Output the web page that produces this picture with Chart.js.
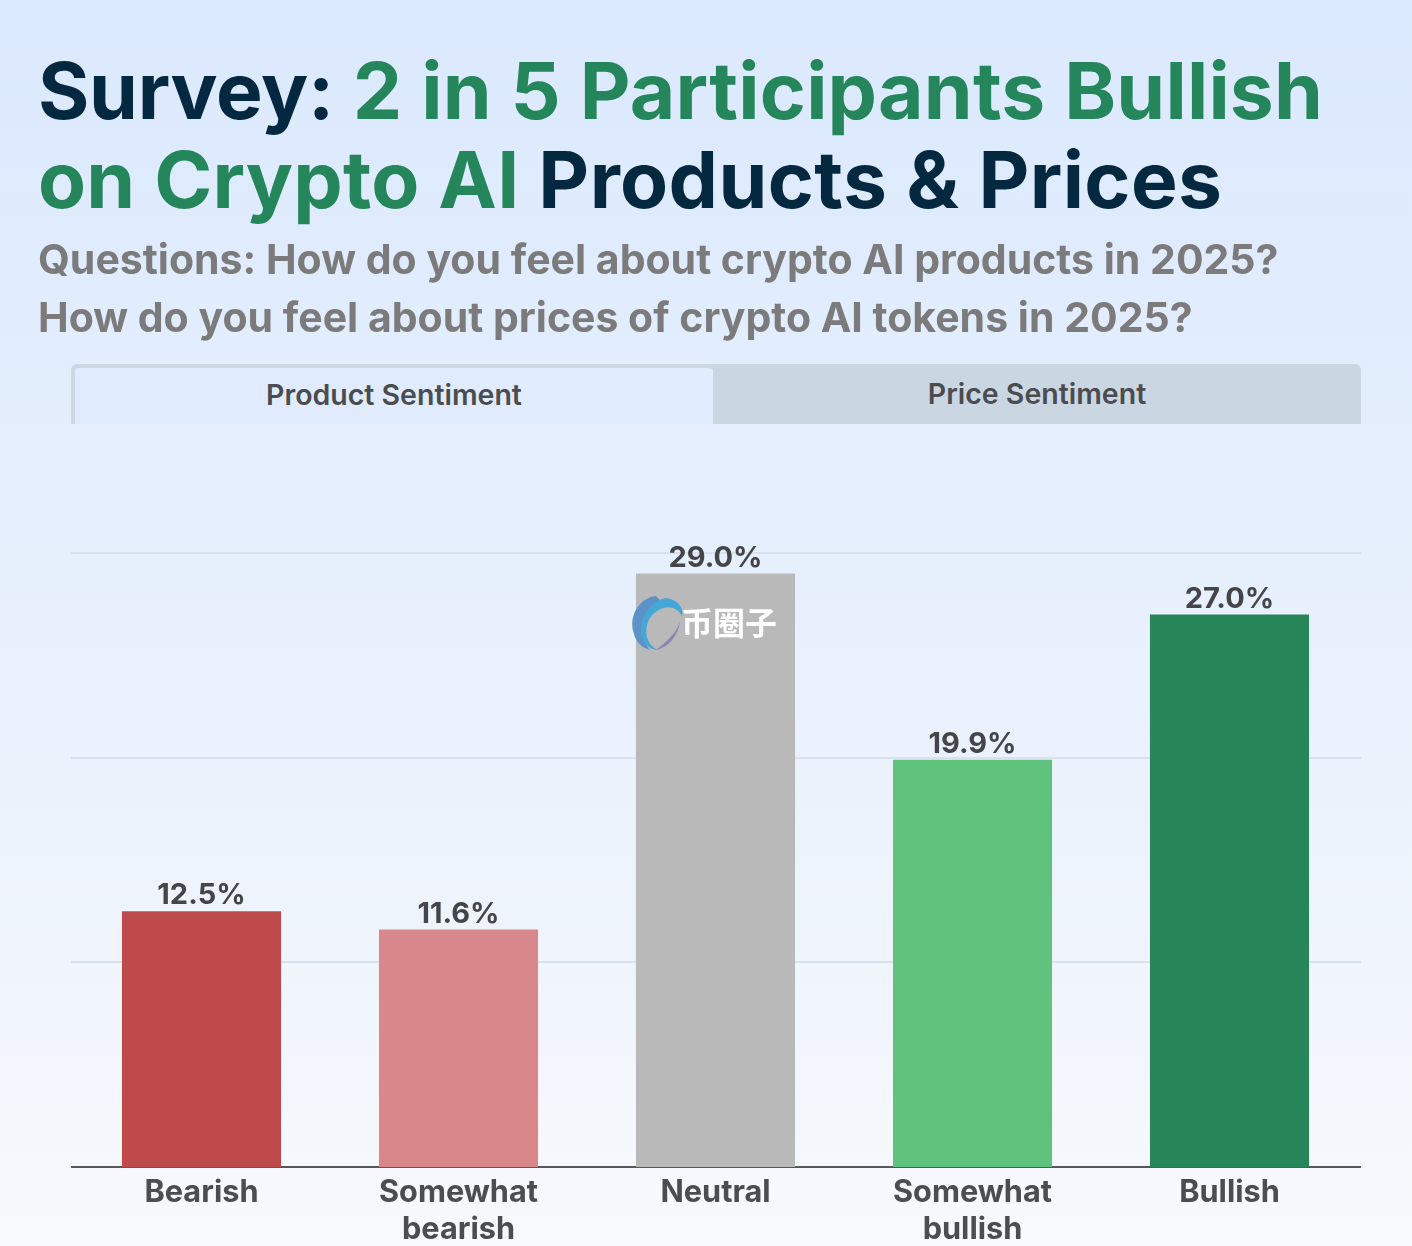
<!DOCTYPE html>
<html>
<head>
<meta charset="utf-8">
<script src="https://cdn.jsdelivr.net/npm/chart.js@4"></script>
<style>
  html, body { margin: 0; padding: 0; }
  body {
    position: relative; width: 1412px; height: 1246px; overflow: hidden;
    font-family: Inter, sans-serif;
    background: linear-gradient(180deg, #dbe9fe 0%, #e6effc 45%, #f7f9fc 100%);
  }
  #chartCanvas { position: absolute; left: 0; top: 0; }
  .title { position: absolute; left: 38px; font-size: 78.5px; font-weight: 700; line-height: 89px; color: #03283f; white-space: nowrap; letter-spacing: 0.4px; }
  .title span { color: #26865b; letter-spacing: 0.2px; }
  .title .lead { color: #03283f; letter-spacing: -0.3px; }
  .sub { position: absolute; left: 38px; font-size: 41px; font-weight: 700; line-height: 58px; color: #7b7b7b; white-space: nowrap; }
  .tab { position: absolute; top: 364px; height: 60px; line-height: 60px; text-align: center; font-size: 28.5px; font-weight: 600; color: #4a4c50; box-sizing: border-box; }
  #tabA { left: 71px; width: 642px; border: 4px solid #cdd8e4; border-bottom: none; border-right: none; border-radius: 6px 6px 0 0; background: #e0ecfd; line-height: 54px; }
  #tabB { left: 700px; width: 661px; padding-left: 13px; background: #cbd6e3; border-radius: 0 6px 0 0; }
  #mark { position: absolute; left: 630px; top: 592px; width: 60px; height: 60px; }
  #markText { position: absolute; left: 681px; top: 601px; font-family: "Noto Sans CJK SC", sans-serif; font-size: 32px; line-height: 40px; font-weight: 700; color: #fff; white-space: nowrap; }
</style>
</head>
<body>
<canvas id="chartCanvas" width="1412" height="1246"></canvas>
<div class="title" style="top:46px"><span class="lead">Survey:</span> <span>2 in 5 Participants Bullish</span></div>
<div class="title" style="top:135px"><span>on Crypto AI</span> Products &amp; Prices</div>
<div class="sub" style="top:230px">Questions: How do you feel about crypto AI products in 2025?</div>
<div class="sub" style="top:288px">How do you feel about prices of crypto AI tokens in 2025?</div>
<div class="tab" id="tabB">Price Sentiment</div>
<div class="tab" id="tabA">Product Sentiment</div>
<svg id="mark" viewBox="0 0 60 60">
  <path d="M26 4 C8 6 -2 26 4 42 C6 50 12 56 20 58 C10 46 10 22 30 8 Z" fill="#5b93c9"/>
  <path d="M36 6 C50 8 54 18 52 24 C46 12 30 12 20 26 C12 40 18 54 28 58 C16 58 8 44 12 30 C16 16 26 8 36 6 Z" fill="#45a7d6"/>
  <path d="M50 30 C48 44 38 56 26 58 C36 50 46 42 50 30 Z" fill="#8a86b8"/>
</svg>
<div id="markText">币圈子</div>

<script>
// ==================== DATOS ====================
const categories = [['Bearish'], ['Somewhat', 'bearish'], ['Neutral'], ['Somewhat', 'bullish'], ['Bullish']];
const sentimentValues = [12.5, 11.6, 29.0, 19.9, 27.0];
const barColors = ['#be4a4b', '#d8888a', '#b9b9b9', '#5fc37d', '#27855a'];
const yTicks = [0, 10, 20, 30];

// Las líneas del eje sobresalen un poco del área de barras (71 a 1361)
const axisLines = {
  id: 'axisLines',
  beforeDatasetsDraw(chart) {
    const { ctx } = chart;
    const y = chart.scales.y;
    ctx.save();
    yTicks.forEach(tick => {
      const py = Math.round(y.getPixelForValue(tick));
      ctx.beginPath();
      ctx.moveTo(71, py);
      ctx.lineTo(1361, py);
      ctx.lineWidth = 2;
      ctx.strokeStyle = tick === 0 ? '#55585c' : '#d8e2ee';
      ctx.stroke();
    });
    ctx.restore();
  }
};

// Etiquetas de valor encima de cada barra
const valueLabels = {
  id: 'valueLabels',
  afterDatasetsDraw(chart) {
    const { ctx } = chart;
    const meta = chart.getDatasetMeta(0);
    ctx.save();
    ctx.font = '700 29px Inter';
    ctx.fillStyle = '#444548';
    ctx.textAlign = 'center';
    ctx.textBaseline = 'bottom';
    meta.data.forEach((bar, i) => {
      ctx.fillText(sentimentValues[i].toFixed(1) + '%', bar.x, bar.y - 1);
    });
    ctx.restore();
  }
};

new Chart(document.getElementById('chartCanvas'), {
  type: 'bar',
  data: {
    labels: categories,
    datasets: [{
      data: sentimentValues,
      backgroundColor: barColors,
      borderWidth: 0,
      categoryPercentage: 1,
      barPercentage: 0.619
    }]
  },
  plugins: [axisLines, valueLabels],
  options: {
    responsive: false,
    animation: false,
    devicePixelRatio: 1,
    layout: { padding: { left: 73, right: 54, top: 553, bottom: 0 } },
    plugins: { legend: { display: false }, tooltip: { enabled: false } },
    scales: {
      x: {
        grid: { display: false },
        border: { display: false },
        ticks: { color: '#4b4d51', font: { family: 'Inter', size: 30.7, weight: 700, lineHeight: 1.18 }, padding: 0, maxRotation: 0, autoSkip: false },
        afterFit: (scale) => { scale.height = 79; }
      },
      y: {
        min: yTicks[0],
        max: yTicks[yTicks.length - 1],
        grid: { display: false },
        border: { display: false },
        ticks: { display: false },
        afterFit: (scale) => { scale.width = 0; }
      }
    }
  }
});
</script>
</body>
</html>
